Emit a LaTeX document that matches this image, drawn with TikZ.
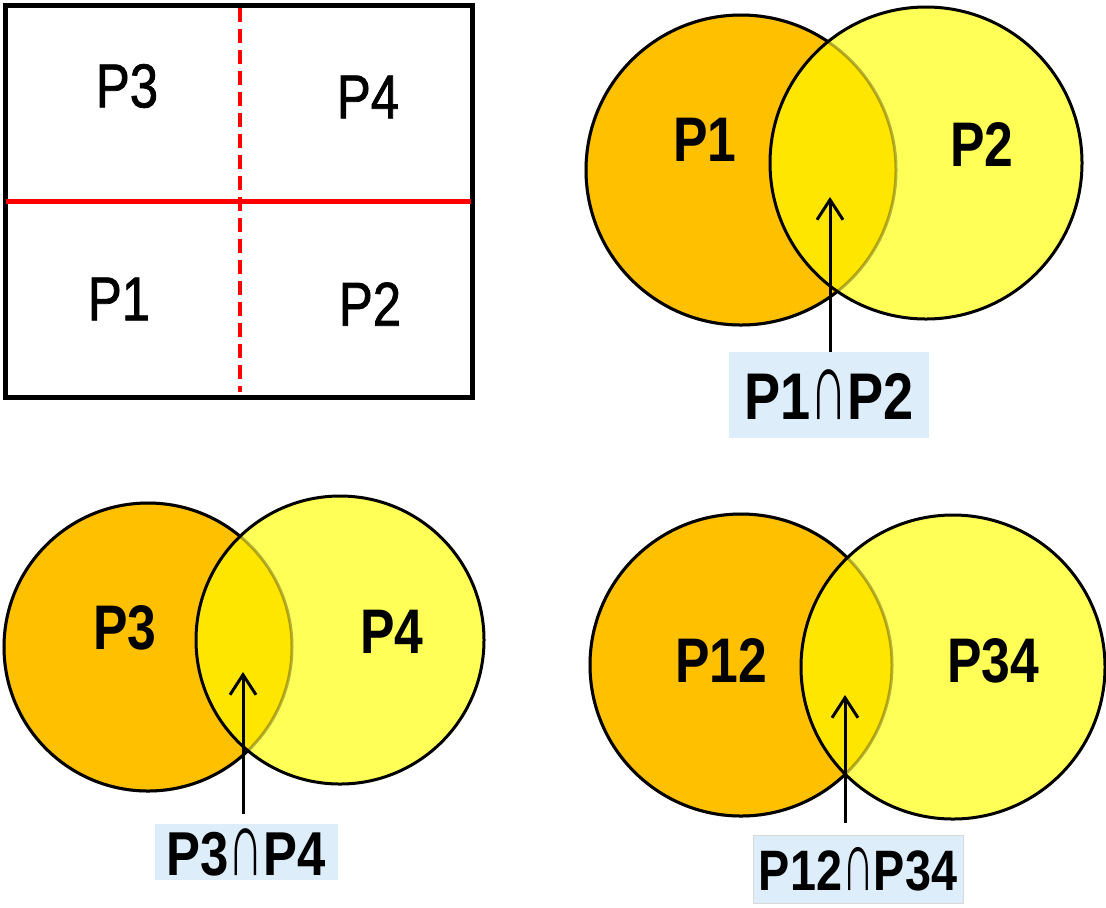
\documentclass[tikz,border=0pt]{standalone}
\usepackage{fontspec}
\usepackage{tikz}
\usetikzlibrary{arrows.meta,positioning,calc}
\newfontfamily\narrowsans{Liberation Sans}[FakeStretch=0.82]
\newfontfamily\cellsans{Liberation Sans}[FakeStretch=0.82, FakeBold=1.2]
\newcommand\capsym{{\mdseries\scalebox{0.95}[1.5]{∩}}}
\definecolor{VennOrange}{RGB}{255,192,0}
\definecolor{VennYellow}{RGB}{255,255,87}
\definecolor{VennInter}{RGB}{255,230,0}
\definecolor{TagBlue}{RGB}{221,238,250}
\definecolor{SplitRed}{RGB}{255,0,0}

\begin{document}
\begin{tikzpicture}[
  x=0.5pt,
  y=-0.5pt,
  cell/.style={
    inner sep=0pt,
    font=\cellsans\fontsize{31}{31}\selectfont
  },
  setlbl/.style={
    inner sep=0pt,
    font=\narrowsans\bfseries\fontsize{31.5}{31.5}\selectfont
  },
  tag/.style={
    rectangle,
    fill=TagBlue,
    inner sep=0pt,
    font=\narrowsans\bfseries\fontsize{33}{33}\selectfont
  },
  ring/.style={line width=1.5pt},
  arrow/.style={-{Straight Barb[length=10pt,width=13pt]}, line width=1.5pt}
]
\useasboundingbox (0,0) rectangle (1106,907);

% Panel 1: the split rectangle
\draw[line width=2.5pt] (5,5) rectangle (472,397);
\draw[SplitRed, line width=2.5pt] (6,201) -- (471,201);
\draw[SplitRed, line width=1.8pt, dash pattern=on 7pt off 3.5pt] (240,8) -- (240,392);
\node[cell] (q3) at (127,86) {P3};
\node[cell] (q4) at (368,97) {P4};
\node[cell] (q1) at (119,299) {P1};
\node[cell] (q2) at (370,304) {P2};

% Panel 2: P1 and P2
\coordinate (a1) at (741,170);
\coordinate (a2) at (926,163);
\fill[VennOrange] (a1) circle (155);
\draw[ring] (a1) circle (155);
\fill[VennYellow] (a2) circle (156);
\begin{scope}
  \clip (a2) circle (156);
  \fill[VennInter] (a1) circle (155);
\end{scope}
\draw[ring, draw opacity=.3] (a1) circle (155);
\draw[ring] (a2) circle (156);
\node[setlbl] (s1) at (705,140) {P1};
\node[setlbl] (s2) at (982,144) {P2};
\coordinate (tipA) at (830,197);
\node[tag, minimum width=100pt, minimum height=43pt] (capA) at (829,395) {P1\capsym P2};
\draw[arrow] (tipA |- capA.north) -- (tipA);

% Panel 3: P3 and P4
\coordinate (b1) at (148,647);
\coordinate (b2) at (340,640);
\fill[VennOrange] (b1) circle (144);
\draw[ring] (b1) circle (144);
\fill[VennYellow] (b2) circle (144);
\begin{scope}
  \clip (b2) circle (144);
  \fill[VennInter] (b1) circle (144);
\end{scope}
\draw[ring, draw opacity=.3] (b1) circle (144);
\draw[ring] (b2) circle (144);
\node[setlbl] (s3) at (125,628) {P3};
\node[setlbl] (s4) at (392,632) {P4};
\coordinate (tipB) at (243,672);
\node[tag, minimum width=91.5pt, minimum height=28pt, font=\narrowsans\bfseries\fontsize{31}{31}\selectfont] (capB) at (246,852) {P3\capsym P4};
\draw[arrow, shorten <=5pt] (tipB |- capB.north) -- (tipB);

% Panel 4: P12 and P34
\coordinate (c1) at (741,665);
\coordinate (c2) at (953,667);
\fill[VennOrange] (c1) circle (151);
\draw[ring] (c1) circle (151);
\fill[VennYellow] (c2) circle (152);
\begin{scope}
  \clip (c2) circle (152);
  \fill[VennInter] (c1) circle (151);
\end{scope}
\draw[ring, draw opacity=.3] (c1) circle (151);
\draw[ring] (c2) circle (152);
\node[setlbl] (s12) at (721,660) {P12};
\node[setlbl] (s34) at (993,661) {P34};
\coordinate (tipC) at (845,695);
\node[tag, draw=black!15, minimum width=105pt, minimum height=34pt, font=\narrowsans\bfseries\fontsize{28.5}{28.5}\selectfont] (capC) at (858,869) {P12\capsym P34};
\draw[arrow, shorten <=6pt] (tipC |- capC.north) -- (tipC);
\end{tikzpicture}
\end{document}
